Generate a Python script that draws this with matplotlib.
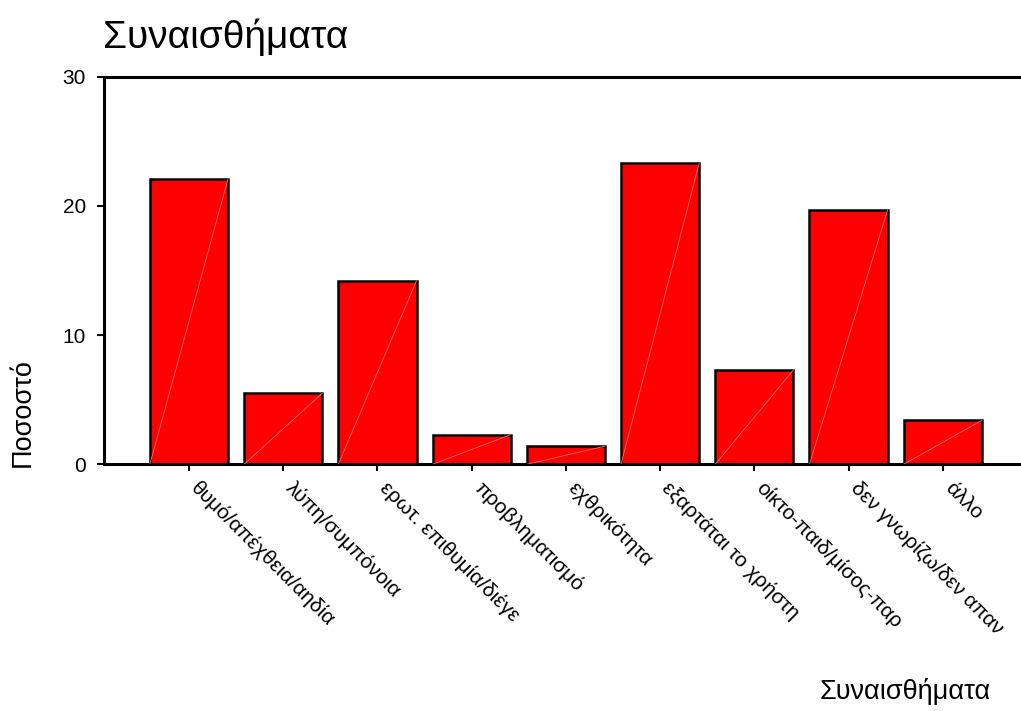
import matplotlib
matplotlib.use("Agg")
import matplotlib.pyplot as plt
import matplotlib.transforms as mtransforms

plt.rcParams['font.family'] = ['Liberation Sans', 'DejaVu Sans']

categories = ["θυμό/απέχθεια/αηδία", "λύπη/συμπόνοια", "ερωτ. επιθυμία/διέγε",
              "προβληματισμό", "εχθρικότητα", "εξαρτάται το χρήστη",
              "οίκτο-παιδ/μίσος-παρ", "δεν γνωρίζω/δεν απαν", "άλλο"]
values = [22.1, 5.5, 14.2, 2.3, 1.4, 23.3, 7.3, 19.7, 3.4]
yticks = [0, 10, 20, 30]

fig = plt.figure(figsize=(10.21, 7.11), dpi=100)
ax = fig.add_axes([0.102, 0.347, 0.898, 0.545])

x = list(range(len(categories)))
width = 0.83
bars = ax.bar(x, values, width=width, color='#ff0000', edgecolor='black', linewidth=1.8, zorder=2)
for b in bars:
    x0 = b.get_x(); w = b.get_width(); h = b.get_height()
    ax.plot([x0, x0 + w], [0, h], color='#ff7070', linewidth=0.6, zorder=3)

ax.set_xlim(-0.9, 8.83)
ax.set_ylim(0, 30)
ax.set_yticks(yticks)
ax.set_yticklabels([str(t) for t in yticks], fontsize=15)
ax.set_xticks(x)
ax.set_xticklabels(categories, rotation=-45, ha='left', va='top', rotation_mode='anchor', fontsize=15)
ax.tick_params(axis='x', length=5, width=1.5, pad=5)
ax.tick_params(axis='y', length=5, width=1.5, pad=8)
offset = mtransforms.ScaledTranslation(0.12, 0.0, fig.dpi_scale_trans)
for lbl in ax.get_xticklabels():
    lbl.set_transform(lbl.get_transform() + offset)

ax.spines['right'].set_visible(False)
for s in ['left', 'top', 'bottom']:
    ax.spines[s].set_linewidth(2.2)

fig.text(0.101, 0.948, "Συναισθήματα", fontsize=28, ha='left', va='center')
fig.text(0.022, 0.42, "Ποσοστό", fontsize=19.5, rotation=90, ha='center', va='center')
fig.text(0.887, 0.027, "Συναισθήματα", fontsize=19.5, ha='center', va='center')

fig.savefig("out.png", dpi=100)
